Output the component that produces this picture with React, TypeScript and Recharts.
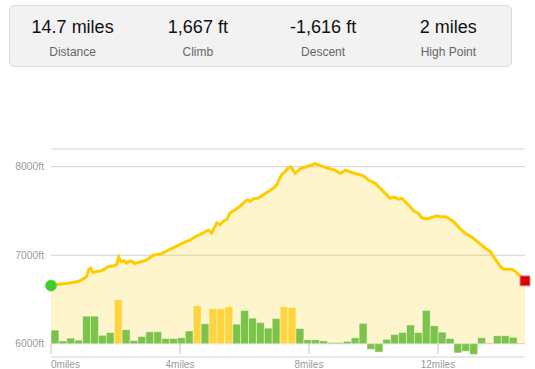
import React from "react"
import { ComposedChart, Area, Bar, Cell, XAxis, YAxis, CartesianGrid } from "recharts"

// header stats
const statValues = ["14.7 miles", "1,667 ft", "-1,616 ft", "2 miles"]
const statLabels = ["Distance", "Climb", "Descent", "High Point"]

// elevation profile (miles / feet)
const profileMiles = [
    0, 0.22, 0.53, 0.84, 0.99, 1.1, 1.17, 1.23, 1.3, 1.41, 1.56, 1.67, 1.77, 1.93, 2.03, 2.1, 2.17, 2.27, 2.34, 2.44,
    2.55, 2.6, 2.76, 2.97, 3.17, 3.43, 3.69, 3.95, 4.05, 4.2, 4.31, 4.46, 4.67, 4.88, 4.98, 5.14, 5.24, 5.34, 5.45, 5.55,
    5.71, 5.86, 6.02, 6.1, 6.17, 6.28, 6.43, 6.59, 6.74, 6.9, 7.0, 7.05, 7.15, 7.26, 7.36, 7.45, 7.57, 7.73, 7.93, 8.19,
    8.4, 8.61, 8.81, 8.97, 9.12, 9.33, 9.54, 9.69, 9.85, 10.06, 10.21, 10.37, 10.52, 10.62, 10.78, 10.88, 10.99, 11.14, 11.25, 11.4,
    11.5, 11.66, 11.81, 11.97, 12.08, 12.23, 12.33, 12.49, 12.7, 12.85, 13.06, 13.26, 13.47, 13.63, 13.73, 13.83, 13.94, 14.04, 14.3, 14.41,
    14.51, 14.61, 14.7,
]
const profileElevation = [
    6657, 6673, 6684, 6702, 6729, 6758, 6834, 6853, 6804, 6815, 6823, 6845, 6871, 6882, 6890, 6977, 6928, 6935, 6909, 6935,
    6924, 6905, 6924, 6947, 7000, 7018, 7067, 7112, 7130, 7157, 7169, 7206, 7243, 7285, 7251, 7364, 7345, 7383, 7401, 7476,
    7514, 7552, 7608, 7626, 7608, 7638, 7645, 7683, 7721, 7758, 7795, 7834, 7908, 7946, 7989, 8000, 7924, 7980, 8000, 8034,
    8006, 7980, 7961, 7924, 7961, 7935, 7913, 7897, 7848, 7811, 7755, 7698, 7642, 7660, 7634, 7642, 7604, 7547, 7499, 7473,
    7423, 7409, 7428, 7446, 7435, 7435, 7417, 7378, 7293, 7248, 7203, 7142, 7079, 7040, 6984, 6928, 6871, 6842, 6842, 6815,
    6778, 6758, 6710,
]

// grade per segment (%), 60 equal segments along the route
const segmentGrades = [
    3.4, 0.7, 1.4, 0.9, 6.9, 6.9, 2.1, 2.8, 11.0, 3.5, 0.8, 1.8, 3.0, 3.0, 1.3, 1.3, 1.5, 3.2, 9.5, 5.0,
    8.8, 8.8, 9.3, 4.9, 8.3, 6.4, 5.3, 3.9, 6.3, 9.3, 9.1, 3.8, 1.0, 1.0, 0.7, 0.3, 0.3, 0.6, 1.5, 5.1,
    -1.4, -2.1, 1.1, 2.3, 2.8, 4.7, 2.8, 8.3, 4.5, 2.9, 1.3, -2.3, -1.9, -2.7, 1.5, 0, 2.0, 2.0, 1.6, 0,
]

const totalMiles = 14.7
const mileTicks = [0, 4, 8, 12]
const elevationTicks = [6000, 7000, 8000]
const baseElevation = 6000
const elevMin = 5850 // a little room below the base line for downhill bars
const elevMax = 8200
const steepGrade = 8.5

const profile = profileMiles.map((mile, i) => ({ mile, elev: profileElevation[i] }))
const segments = segmentGrades.map((grade, i) => ({ segment: i, grade }))

const WIDTH = 535
const HEIGHT = 369
const MARGIN = { top: 149, right: 10, left: 0, bottom: 0 }
const Y_AXIS_W = 51
const X_AXIS_H = 12
const PLOT_H = HEIGHT - MARGIN.top - MARGIN.bottom - X_AXIS_H
const PX_PER_GRADE = 4

// grade axis lined up so that 0% sits on the base elevation line
const zeroFrac = (baseElevation - elevMin) / (elevMax - elevMin)
const gradeSpan = PLOT_H / PX_PER_GRADE
const gradeDomain = [-gradeSpan * zeroFrac, gradeSpan * (1 - zeroFrac)]

function EndpointDot(props: any) {
    const { cx, cy, index } = props
    if (index === 0) {
        return <circle key="start" cx={cx} cy={cy} r={5.5} fill="#3ccf2b" stroke="#62dc52" strokeWidth={1} />
    }
    if (index === profile.length - 1) {
        return <rect key="end" x={cx - 5} y={cy - 5} width={10} height={10} fill="#d60000" stroke="#ef8b8b" strokeWidth={1} />
    }
    return <g key={`dot-${index}`} />
}

// tick mark hangs from the base line, label below it
function MileTick(props: any) {
    const { x, y, payload } = props
    return (
        <g>
            <line x1={x} x2={x} y1={y - 13} y2={y - 3} stroke="#c4c4c4" />
            <text x={x} y={y + 3.5} dy="0.71em" textAnchor={payload.value === 0 ? "start" : "middle"} fill="#9a9a9a" fontSize={10}>
                {`${payload.value}miles`}
            </text>
        </g>
    )
}

export default function App() {
    return (
        <div style={{ position: "absolute", left: 0, top: 0, width: WIDTH, height: HEIGHT, fontFamily: "'Liberation Sans', Arial, sans-serif", background: "#fff" }}>
            <ComposedChart width={WIDTH} height={HEIGHT} data={segments} margin={MARGIN} barCategoryGap={0} barGap={0}>
                <CartesianGrid vertical={false} stroke="#d0d0d0" />
                <XAxis
                    dataKey="mile"
                    type="number"
                    domain={[0, totalMiles]}
                    ticks={mileTicks}
                    height={X_AXIS_H}
                    axisLine={false}
                    tickLine={false}
                    tickSize={0}
                    tickMargin={0}
                    tick={<MileTick />}
                />
                <XAxis xAxisId="seg" dataKey="segment" type="category" hide />
                <YAxis
                    type="number"
                    domain={[elevMin, elevMax]}
                    ticks={elevationTicks}
                    width={Y_AXIS_W}
                    axisLine={false}
                    tickLine={false}
                    tickSize={0}
                    tickMargin={7}
                    tick={{ fill: "#9a9a9a", fontSize: 10.3 }}
                    tickFormatter={(v) => `${v}ft`}
                />
                <YAxis yAxisId="grade" type="number" hide domain={gradeDomain} />
                <Area
                    data={profile}
                    dataKey="elev"
                    type="linear"
                    baseValue={baseElevation}
                    stroke="#ffcc00"
                    strokeWidth={3}
                    fill="#ffcc00"
                    fillOpacity={0.2}
                    dot={EndpointDot}
                    activeDot={false}
                    isAnimationActive={false}
                />
                <Bar
                    dataKey="grade"
                    xAxisId="seg"
                    yAxisId="grade"
                    stroke="#ffffff"
                    strokeOpacity={0.45}
                    strokeWidth={1}
                    isAnimationActive={false}
                >
                    {segments.map((s, i) => (
                        <Cell key={i} fill={s.grade > steepGrade ? "#ffd53f" : "#7cc34a"} />
                    ))}
                </Bar>
            </ComposedChart>
            <div
                style={{
                    position: "absolute",
                    left: 9,
                    top: 5,
                    width: 503,
                    height: 62,
                    boxSizing: "border-box",
                    background: "#f2f2f2",
                    border: "1px solid #dcdcdc",
                    borderRadius: 5,
                    display: "flex",
                }}
            >
                {statValues.map((v, i) => (
                    <div key={i} style={{ flex: 1, textAlign: "center", paddingTop: 11 }}>
                        <div style={{ fontSize: 18, lineHeight: "20px", color: "#111" }}>{v}</div>
                        <div style={{ fontSize: 12, lineHeight: "14px", color: "#666", marginTop: 8 }}>{statLabels[i]}</div>
                    </div>
                ))}
            </div>
        </div>
    )
}
